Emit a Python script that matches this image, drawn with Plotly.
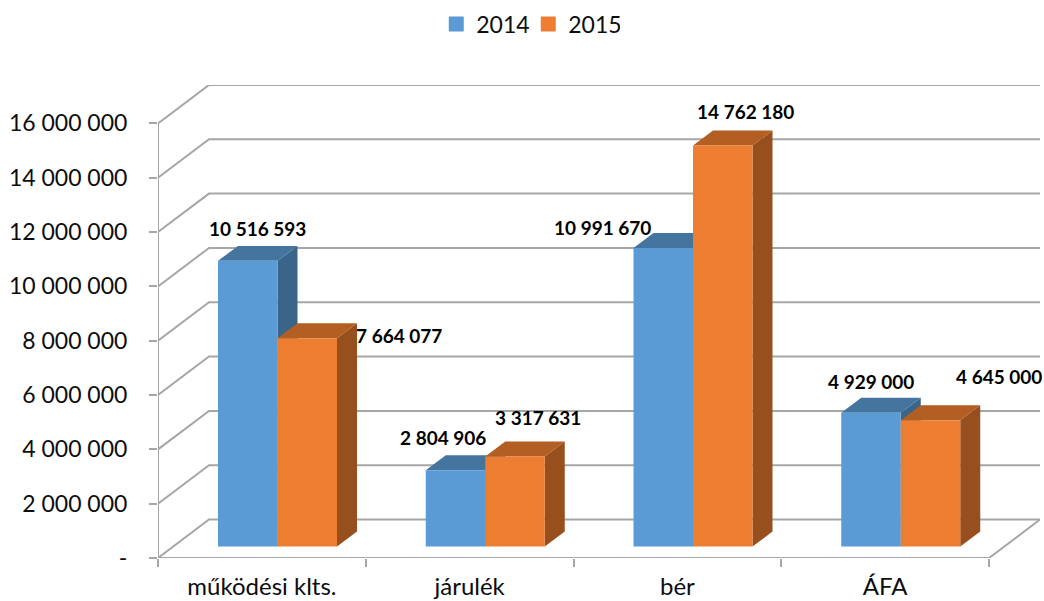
import plotly.graph_objects as go

# ---- data ----
categories = ["működési klts.", "járulék", "bér", "ÁFA"]
values_2014 = [10516593, 2804906, 10991670, 4929000]
values_2015 = [7664077, 3317631, 14762180, 4645000]
tick_values = [0, 2000000, 4000000, 6000000, 8000000, 10000000, 12000000, 14000000, 16000000]
tick_labels = ["-", "2 000 000", "4 000 000", "6 000 000", "8 000 000",
               "10 000 000", "12 000 000", "14 000 000", "16 000 000"]

# ---- label nudges (px) ----
label_dx_2014 = [10, -13, -61, 0]
label_dy_2014 = [-32, -33, -20, -31]
label_dx_2015 = [92, 23, 23, 68]
label_dy_2015 = [-3, -39, -34, -44]

# ---- geometry: 3-D look expressed in axis units ----
W, H = 1044, 601
PX_X = 207.75            # px per category
PX_Y = 27.19 / 1e6       # px per value unit
LEFT, RIGHT_EDGE, TOP, BOTTOM = 158, 1040, 85, 558.5
X_MAX = (RIGHT_EDGE - LEFT) / PX_X
Y_MAX = (BOTTOM - TOP) / PX_Y
WALL_DX, WALL_DY = 51 / PX_X, 38.5 / PX_Y
BAR_DX, BAR_DY = 20 / PX_X, 15 / PX_Y
BAR_BASE = 11.5 / PX_Y
BAR_W = 59.5 / PX_X
GROUP_OFF = 60 / PX_X

GRID = "#A6A6A6"
TEXT = "#0D0D0D"
FONT = "Lato"

fig = go.Figure()

# walls / gridlines
gx, gy = [], []
for v in tick_values:
    gx += [0, WALL_DX, X_MAX, None]
    gy += [v, v + WALL_DY, v + WALL_DY, None]
gx += [0, 0, None, 0, 4, X_MAX]
gy += [0, tick_values[-1], None, 0, 0, WALL_DY]
fig.add_trace(go.Scatter(x=gx, y=gy, mode="lines", line=dict(color=GRID, width=2),
                         showlegend=False, hoverinfo="skip", cliponaxis=False))


def polys(rects):
    xs, ys = [], []
    for r in rects:
        xs += [p[0] for p in r] + [r[0][0], None]
        ys += [p[1] for p in r] + [r[0][1], None]
    return xs, ys


def add_series(vals, slot, front, top, side):
    sides, tops, fronts = [], [], []
    for k, v in enumerate(vals):
        x0 = k + GROUP_OFF + slot * BAR_W
        x1 = x0 + BAR_W
        y0, y1 = BAR_BASE, BAR_BASE + v
        fronts.append([(x0, y0), (x1, y0), (x1, y1), (x0, y1)])
        tops.append([(x0, y1), (x1, y1), (x1 + BAR_DX, y1 + BAR_DY), (x0 + BAR_DX, y1 + BAR_DY)])
        sides.append([(x1, y0), (x1 + BAR_DX, y0 + BAR_DY), (x1 + BAR_DX, y1 + BAR_DY), (x1, y1)])
    for rects, col in ((sides, side), (tops, top), (fronts, front)):
        xs, ys = polys(rects)
        fig.add_trace(go.Scatter(x=xs, y=ys, mode="lines", fill="toself", fillcolor=col,
                                 line=dict(width=0, color=col), showlegend=False,
                                 hoverinfo="skip", cliponaxis=False))


add_series(values_2014, 0, "#5B9BD5", "#44759F", "#3A6488")
add_series(values_2015, 1, "#ED7D31", "#B35E22", "#964F1D")

# legend entries
for name, col in (("2014", "#5B9BD5"), ("2015", "#ED7D31")):
    fig.add_trace(go.Scatter(x=[None], y=[None], mode="markers", name=name,
                             marker=dict(symbol="square", size=15, color=col)))

# data labels
annotations = []
for slot, vals, dxs, dys in ((0, values_2014, label_dx_2014, label_dy_2014),
                             (1, values_2015, label_dx_2015, label_dy_2015)):
    for k, v in enumerate(vals):
        annotations.append(dict(
            x=k + GROUP_OFF + (slot + 0.5) * BAR_W, y=BAR_BASE + v, xref="x", yref="y",
            text=f"{v:,}".replace(",", " "), showarrow=False,
            xshift=dxs[k], yshift=-dys[k],
            font=dict(family=FONT, size=19, color="#000000", weight="bold")))

fig.update_layout(
    width=W, height=H, autosize=False,
    margin=dict(l=LEFT, r=W - RIGHT_EDGE, t=TOP, b=H - BOTTOM, pad=0),
    paper_bgcolor="white", plot_bgcolor="white",
    font=dict(family=FONT, color=TEXT, size=23),
    showlegend=True,
    legend=dict(orientation="h", xref="container", yref="container",
                x=0.506, y=0.96, xanchor="center", yanchor="middle", entrywidth=47,
                font=dict(family=FONT, size=23, color=TEXT),
                bgcolor="rgba(0,0,0,0)"),
    annotations=annotations,
    xaxis=dict(range=[0, X_MAX], showgrid=False, zeroline=False, showline=False, automargin=False,
               tickmode="array", tickvals=[k + 0.5 for k in range(len(categories))],
               ticktext=categories, ticks="outside", ticklen=0, ticklabelstandoff=7,
               tickfont=dict(family=FONT, size=24, color=TEXT),
               minor=dict(tickmode="array", tickvals=list(range(len(categories) + 1)),
                          ticks="outside", ticklen=8, tickcolor=GRID, tickwidth=2, showgrid=False)),
    yaxis=dict(range=[0, Y_MAX], showgrid=False, zeroline=False, showline=False, automargin=False,
               tickmode="array", tickvals=tick_values, ticktext=tick_labels,
               ticks="outside", ticklen=8, tickcolor=GRID, tickwidth=2,
               ticklabelstandoff=17,
               tickfont=dict(family=FONT, size=23, color=TEXT)),
)

fig.write_html("out.html", config=dict(displayModeBar=False),
               post_script="document.body.style.margin='0';document.documentElement.style.overflow='hidden';")
